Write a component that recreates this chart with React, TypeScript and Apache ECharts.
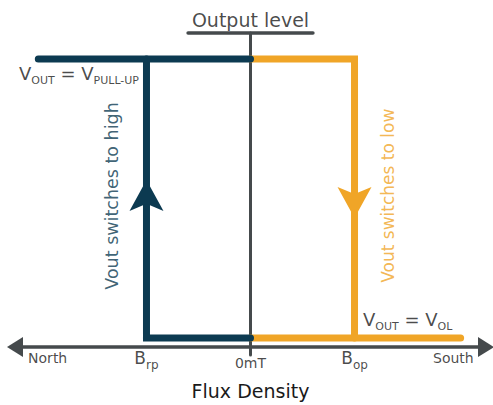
import React, { useEffect, useRef } from "react";
import * as echarts from "echarts";

const BLUE = "#0c3a51";
const ORANGE = "#f0a527";
const GRAY = "#454a4c";
const TEXT = "#1a1a1a";
const FONT = "DejaVu Sans";

// Flux density (mT, schematic) and output level (0 = low, 1 = high)
const B_RP = -100;
const B_OP = 100;
const LOW = 0;
const HIGH = 1;
const X_MIN = -226.4;
const X_MAX = 226.4;
const AXIS_LEVEL = -0.0323;
const Y_MAX = 1.2;
const OUT_TOP = 1.093;
const OUT_TICK = -0.061;

const blueTop = [[-204, HIGH], [0, HIGH]];
const blueSwitch = [[B_RP, HIGH], [B_RP, LOW], [0, LOW]];
const orangeSwitch = [[0, HIGH], [B_OP, HIGH], [B_OP, LOW]];
const orangeBottom = [[0, LOW], [202, LOW]];
const outputAxis = [[0, OUT_TICK], [0, OUT_TOP]];
const outputBar = [[-60, OUT_TOP], [60, OUT_TOP]];
const arrowUp = [[B_RP, 0.511]];
const arrowDown = [[B_OP, 0.486]];

const tickValues = [-195, B_RP, 0, B_OP, 195];
const tickTexts = ["North", "{b|B}{s|rp}", "0mT", "{b|B}{s|op}", "South"];

const ARROW = "path://M49,0 L98,92 L49,71 L0,92 Z";

function lineSeries(data: number[][], color: string, width: number, z: number) {
  return {
    type: "line",
    data,
    symbol: "none",
    showSymbol: false,
    silent: true,
    clip: false,
    z,
    lineStyle: { color, width, cap: "round", join: "miter", opacity: 1 },
  };
}

function textSeries(data: any[], label: any) {
  return {
    type: "scatter",
    data,
    symbolSize: 1,
    silent: true,
    clip: false,
    z: 20,
    itemStyle: { color: "rgba(0,0,0,0)" },
    label: { show: true, fontFamily: FONT, ...label },
  };
}

export default function App() {
  const ref = useRef<HTMLDivElement>(null);
  useEffect(() => {
    const chart = echarts.init(ref.current!, null, { renderer: "svg" });
    const voutRich = {
      v: { fontSize: 18, color: TEXT, fontFamily: FONT, lineHeight: 22, verticalAlign: "top" },
      s: {
        fontSize: 11,
        color: TEXT,
        fontFamily: FONT,
        lineHeight: 12,
        verticalAlign: "top",
        padding: [10, 0, 0, 0],
      },
    };
    const bRich = {
      b: { fontSize: 17, color: TEXT, fontFamily: FONT, lineHeight: 20, verticalAlign: "top" },
      s: {
        fontSize: 12,
        color: TEXT,
        fontFamily: FONT,
        lineHeight: 13,
        verticalAlign: "top",
        padding: [9, 0, 0, 0],
      },
    };
    chart.setOption({
      animation: false,
      grid: { left: 15, right: 7, top: 3.2, bottom: 58 },
      xAxis: {
        type: "value",
        min: X_MIN,
        max: X_MAX,
        splitLine: { show: false },
        axisTick: { show: false },
        axisLabel: { show: false },
        axisLine: {
          show: true,
          onZero: false,
          symbol: ["triangle", "triangle"],
          symbolSize: [20, 16],
          lineStyle: { color: GRAY, width: 3.5 },
        },
        name: "Flux Density",
        nameLocation: "middle",
        nameGap: 34,
        nameTextStyle: { fontFamily: FONT, fontSize: 19, color: TEXT },
      },
      yAxis: { type: "value", min: AXIS_LEVEL, max: Y_MAX, show: false },
      series: [
        lineSeries(outputAxis, GRAY, 3, 2),
        lineSeries(outputBar, GRAY, 3.5, 2),
        lineSeries(orangeSwitch, ORANGE, 7, 3),
        lineSeries(orangeBottom, ORANGE, 7, 3),
        lineSeries(blueSwitch, BLUE, 7, 4),
        lineSeries(blueTop, BLUE, 7, 4),
        {
          type: "scatter",
          data: arrowUp,
          symbol: ARROW,
          symbolSize: [34, 31],
          symbolKeepAspect: false,
          itemStyle: { color: BLUE, opacity: 1 },
          silent: true,
          z: 5,
        },
        {
          type: "scatter",
          data: arrowDown,
          symbol: ARROW,
          symbolSize: [34, 31],
          symbolRotate: 180,
          symbolKeepAspect: false,
          itemStyle: { color: ORANGE, opacity: 1 },
          silent: true,
          z: 5,
        },
        textSeries(
          tickValues.map((x, i) => ({
            value: [x, AXIS_LEVEL],
            label: {
              formatter: tickTexts[i],
              distance: i === 2 ? 7 : 2,
            },
          })),
          { position: "bottom", fontSize: 14, color: TEXT, lineHeight: 17, rich: bRich }
        ),
        textSeries([{ value: [0, OUT_TOP] }], {
          position: "top",
          distance: 3,
          formatter: "Output level",
          fontSize: 19,
          color: TEXT,
        }),
        textSeries([{ value: [B_RP, HIGH] }], {
          position: "left",
          distance: 7,
          offset: [0, 17],
          formatter: "{v|V}{s|OUT}{v| = V}{s|PULL-UP}",
          rich: voutRich,
        }),
        textSeries([{ value: [B_OP, LOW] }], {
          position: "right",
          distance: 8,
          offset: [0, -16],
          formatter: "{v|V}{s|OUT}{v| = V}{s|OL}",
          rich: voutRich,
        }),
        textSeries([{ value: [-133, 0.509] }], {
          position: "inside",
          rotate: 90,
          formatter: "Vout switches to high",
          fontSize: 17.5,
          color: BLUE,
        }),
        textSeries([{ value: [132, 0.51] }], {
          position: "inside",
          rotate: 90,
          formatter: "Vout switches to low",
          fontSize: 17,
          color: ORANGE,
        }),
      ],
    });
    return () => chart.dispose();
  }, []);
  return (
    <div
      ref={ref}
      style={{ position: "absolute", left: 0, top: 0, width: 493, height: 405, background: "#fff" }}
    />
  );
}
